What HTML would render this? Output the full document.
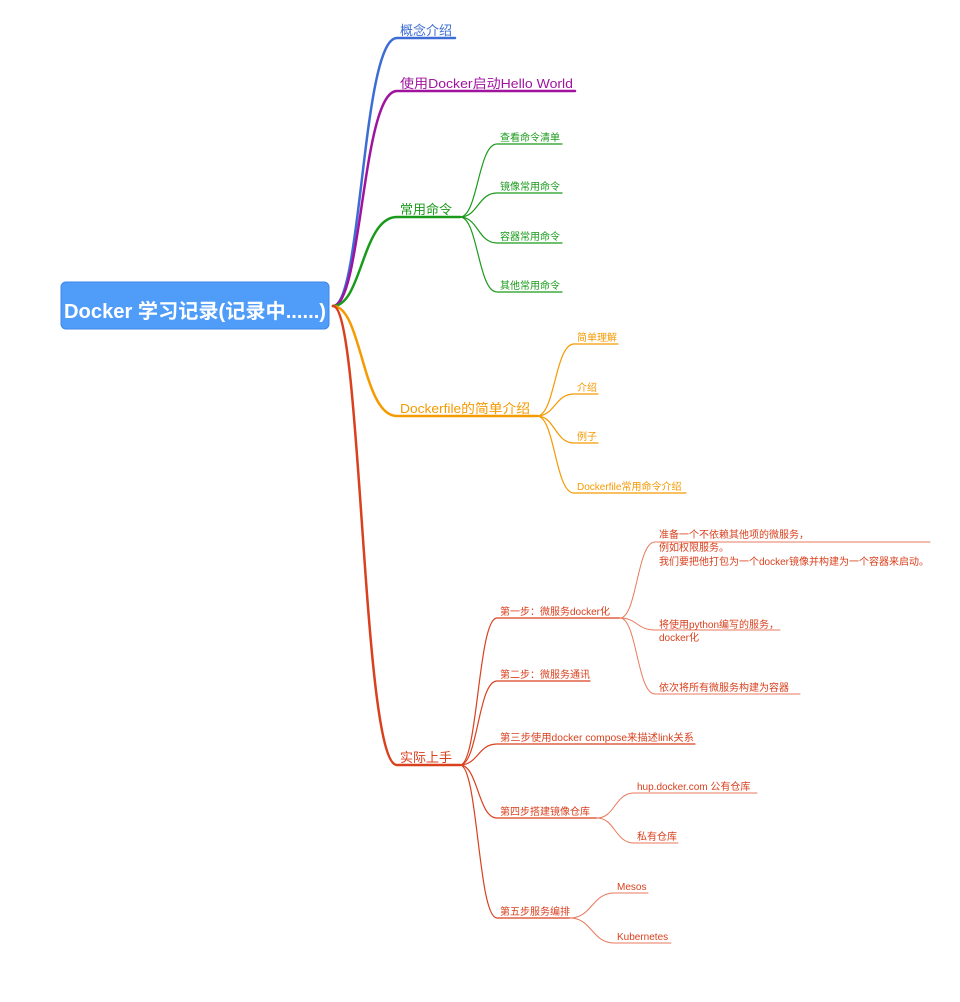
<!DOCTYPE html>
<html><head><meta charset="utf-8"><style>
html,body{margin:0;padding:0;background:#fff;}
svg{display:block;font-family:"Liberation Sans","Noto Sans CJK SC",sans-serif;}
</style></head><body>
<svg width="960" height="1002" viewBox="0 0 960 1002" xmlns="http://www.w3.org/2000/svg">
<g fill="none" stroke-linecap="round">
<path d="M333,306 C362,306 362,38 397,38 L455,38" stroke="#3c6cd4" stroke-width="2.5"/>
<path d="M333,306 C362,306 362,91 397,91 L575,91" stroke="#a0139e" stroke-width="2.5"/>
<path d="M333,306 C362,306 362,217 397,217 L460,217" stroke="#1a9a1a" stroke-width="2.5"/>
<path d="M333,306 C362,306 362,416 397,416 L537,416" stroke="#f59a00" stroke-width="2.5"/>
<path d="M333,306 C362,306 362,765 397,765 L460,765" stroke="#d9401e" stroke-width="2.5"/>
<g stroke="#1a9a1a" stroke-width="1.2">
<path d="M460,217 C478,217 478,144 497,144 L562,144"/>
<path d="M460,217 C478,217 478,193 497,193 L562,193"/>
<path d="M460,217 C478,217 478,243 497,243 L562,243"/>
<path d="M460,217 C478,217 478,292 497,292 L562,292"/>
</g>
<g stroke="#f59a00" stroke-width="1.2">
<path d="M537,416 C555,416 555,344 574,344 L618,344"/>
<path d="M537,416 C555,416 555,394 574,394 L598,394"/>
<path d="M537,416 C555,416 555,443 574,443 L598,443"/>
<path d="M537,416 C555,416 555,493 574,493 L686,493"/>
</g>
<g stroke="#d9401e" stroke-width="1.2">
<path d="M460,765 C478,765 478,618 497,618 L620,618"/>
<path d="M460,765 C478,765 478,681 497,681 L590,681"/>
<path d="M460,765 C478,765 478,744 497,744 L695,744"/>
<path d="M460,765 C478,765 478,818 497,818 L597,818"/>
<path d="M460,765 C478,765 478,918 497,918 L570,918"/>
</g>
<g stroke="#e8795c" stroke-width="1">
<path d="M620,618 C637,618 637,542 655,542 L930,542"/>
<path d="M620,618 C637,618 637,630 655,630 L780,630"/>
<path d="M620,618 C637,618 637,694 655,694 L800,694"/>
<path d="M597,818 C615,818 615,793 634,793 L757,793"/>
<path d="M597,818 C615,818 615,843 634,843 L678,843"/>
<path d="M570,918 C592,918 592,893 614,893 L648,893"/>
<path d="M570,918 C592,918 592,943 614,943 L671,943"/>
</g>
</g>
<rect x="61" y="282" width="268" height="47" rx="5" fill="#4f9cf9" stroke="#3f86e6"/>
<text x="64" y="318" fill="#fff" font-size="20" font-weight="bold" textLength="262" lengthAdjust="spacingAndGlyphs">Docker 学习记录(记录中......)</text>
<g font-size="13">
<text x="400" y="35" fill="#3c6cd4">概念介绍</text>
<text x="400" y="88" fill="#a0139e" textLength="173" lengthAdjust="spacingAndGlyphs">使用Docker启动Hello World</text>
<text x="400" y="214" fill="#1a9a1a">常用命令</text>
<text x="400" y="413" fill="#f59a00" textLength="130" lengthAdjust="spacingAndGlyphs">Dockerfile的简单介绍</text>
<text x="400" y="762" fill="#d9401e">实际上手</text>
</g>
<g font-size="10" fill="#1a9a1a">
<text x="500" y="141">查看命令清单</text>
<text x="500" y="190">镜像常用命令</text>
<text x="500" y="240">容器常用命令</text>
<text x="500" y="289">其他常用命令</text>
</g>
<g font-size="10" fill="#f59a00">
<text x="577" y="341">简单理解</text>
<text x="577" y="391">介绍</text>
<text x="577" y="440">例子</text>
<text x="577" y="490">Dockerfile常用命令介绍</text>
</g>
<g font-size="10" fill="#d9401e">
<text x="500" y="615">第一步：微服务docker化</text>
<text x="500" y="678">第二步：微服务通讯</text>
<text x="500" y="741" textLength="194" lengthAdjust="spacingAndGlyphs">第三步使用docker compose来描述link关系</text>
<text x="500" y="815">第四步搭建镜像仓库</text>
<text x="500" y="915">第五步服务编排</text>
<text x="659" y="538">准备一个不依赖其他项的微服务，</text>
<text x="659" y="551">例如权限服务。</text>
<text x="659" y="565">我们要把他打包为一个docker镜像并构建为一个容器来启动。</text>
<text x="659" y="628">将使用python编写的服务，</text>
<text x="659" y="641">docker化</text>
<text x="659" y="691">依次将所有微服务构建为容器</text>
<text x="637" y="790">hup.docker.com 公有仓库</text>
<text x="637" y="840">私有仓库</text>
<text x="617" y="890">Mesos</text>
<text x="617" y="940">Kubernetes</text>
</g>
</svg>
</body></html>
